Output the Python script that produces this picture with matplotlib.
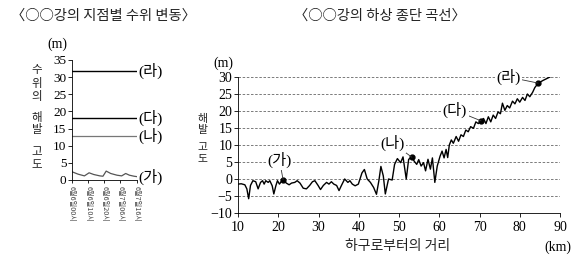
import matplotlib
matplotlib.use('Agg')
import matplotlib.pyplot as plt

KR = 'Noto Sans CJK KR'
SERIF_KR = ['Liberation Serif', 'Noto Sans CJK KR']

# left panel: water level at four stations (hours since 6/6 00h)
hours = [0, 3.8, 7.7, 10.6, 13.5, 17.3, 19.2, 21.2, 24, 27.9, 30.8, 33.3,
         35.6, 38.5, 40]
level_ga = [2.4, 1.7, 1.2, 2.1, 1.6, 1.2, 1.1, 2.6, 1.9, 1.4, 1.2, 1.9,
            1.4, 1.1, 1.0]
level_na = 12.9
level_da = 18.2
level_ra = 31.8
time_ticks = [0, 10, 20, 30, 40]
time_labels = ['6월6일00시', '6월6일10시', '6월6일20시', '6월7일06시',
               '6월7일16시']

# right panel: long profile of river bed
dist_km = [10, 10.8, 11.7, 12.2, 12.65, 13.1, 13.7, 14.4, 15.0, 15.6, 16.1,
           16.5, 16.9, 17.5, 17.9, 18.5, 18.9, 19.4, 19.8, 20.3, 20.9, 21.2,
           22.0, 22.7, 23.3, 24.1, 24.7, 25.4, 26.2, 27.0, 27.8, 28.5, 29.1,
           29.9, 30.5, 31.2, 32.0, 32.6, 33.2, 33.8, 34.5, 35.1, 35.7, 36.5,
           37.3, 37.8, 38.4, 39.1, 39.9, 40.8, 41.4, 42.1, 42.9, 43.7, 44.4,
           45.0, 45.5, 46.1, 46.6, 47.4, 48.3, 48.9, 49.6, 50.4, 51.0, 51.8,
           52.4, 53.2, 53.8, 54.4, 54.9, 55.5, 56.1, 56.6, 57.2, 57.8, 58.3,
           58.9, 59.5, 60.2, 60.7, 61.2, 61.7, 62.1, 62.5, 63.0, 63.5, 64.2,
           64.8, 65.4, 66.0, 66.6, 67.2, 67.8, 68.5, 69.1, 69.7, 70.4, 71.0,
           71.6, 72.2, 72.8, 73.4, 74.0, 74.6, 75.2, 75.7, 76.3, 76.9, 77.5,
           78.2, 78.8, 79.4, 80.0, 80.7, 81.3, 81.9, 82.5, 83.2, 83.75, 84.6,
           85.8, 87.5]
bed_m = [-1.5, -1.4, -1.7, -2.9, -5.8, -1.9, -0.5, -0.8, -2.9, -1.0, -0.5,
         -1.5, -0.5, -1.0, -0.5, -2.0, -4.4, -2.0, -0.5, -1.5, -0.5, -0.2,
         -1.2, -1.7, -1.2, -1.0, -0.5, -1.2, -2.7, -2.9, -1.9, -0.8, -0.5,
         -1.9, -3.1, -1.9, -1.0, -1.5, -0.8, -1.5, -1.9, -3.4, -1.9, 0.0,
         -1.0, -0.5, -1.5, -2.0, -1.5, 1.8, 2.8, 0.0, -1.0, -2.5, -4.5,
         -0.5, 3.7, 0.9, -4.4, 0.0, -0.3, 4.3, 6.0, 4.8, 6.5, 0.0,
         5.8, 6.4, 5.2, 4.3, 5.7, 3.8, 4.8, 2.4, 5.8, 2.9, 6.2,
         -1.0, 3.8, 6.7, 8.2, 6.2, 8.7, 6.3, 10.0, 11.5, 10.5, 12.5,
         11.1, 13.0, 12.5, 14.4, 13.9, 15.4, 14.9, 16.8, 16.3, 17.1, 17.8,
         16.3, 18.3, 16.8, 18.8, 17.8, 19.7, 19.2, 22.3, 20.2, 21.6, 20.9,
         22.9, 22.1, 23.6, 22.6, 24.0, 23.1, 25.0, 24.2, 25.5, 26.9, 28.2,
         29.0, 30.0]
station_names = ['(가)', '(나)', '(다)', '(라)']
station_km = [21.2, 53.2, 70.4, 84.6]
station_bed = [-0.2, 6.4, 17.1, 28.2]
label_pos = [(20.3, 5.6), (48.4, 10.6), (63.9, 20.2), (77.2, 30.0)]

W, H = 575, 259
fig = plt.figure(figsize=(W / 100, H / 100), dpi=100)


def px_axes(x0, y0, x1, y1):
    return fig.add_axes([x0 / W, 1 - y1 / H, (x1 - x0) / W, (y1 - y0) / H])


def stacked(chars, x, ys, size):
    for ch, py in zip(chars, ys):
        fig.text(x / W, 1 - py / H, ch, fontsize=size, family=KR,
                 ha='center', va='center', color='#222222')


# ---- left panel
ax1 = px_axes(72, 60, 136.5, 180)
ax1.plot(hours, level_ga, color='#555555', lw=0.9)
ax1.plot([0, 40], [level_na, level_na], color='#777777', lw=0.9)
ax1.plot([0, 40], [level_da, level_da], color='black', lw=1.0)
ax1.plot([0, 40], [level_ra, level_ra], color='black', lw=1.0)
ax1.set_xlim(0, 40)
ax1.set_ylim(0, 35)
ax1.set_yticks(range(0, 36, 5))
ax1.set_xticks(time_ticks)
ax1.set_xticklabels(time_labels, rotation=270, fontsize=5.2, family=KR,
                    color='#444444')
for lab in ax1.get_yticklabels():
    lab.set_fontfamily('Liberation Serif')
    lab.set_fontsize(9.5)
ax1.tick_params(axis='y', length=3, width=0.6, pad=1)
ax1.tick_params(axis='x', length=2.5, width=0.6, pad=2)
for side in ('top', 'right'):
    ax1.spines[side].set_visible(False)
for side in ('left', 'bottom'):
    ax1.spines[side].set_linewidth(0.6)
for name, y in zip(station_names,
                   [level_ga[-1], level_na, level_da, level_ra]):
    ax1.text(41, y, name, fontsize=11, family=SERIF_KR, va='center',
             ha='left')

fig.text(57 / W, 1 - 44 / H, '(m)', fontsize=10, family='Liberation Serif',
         ha='center', va='center')
stacked('수위의해발고도', 37, [70, 84, 97, 118, 130, 152, 165], 8.3)
fig.text(103 / W, 1 - 16 / H, '〈○○강의 지점별 수위 변동〉', fontsize=10.3,
         family=KR, ha='center', va='center', color='#222222')

# ---- right panel
ax2 = px_axes(238, 77, 560, 213)
ax2.set_xlim(10, 90)
ax2.set_ylim(-10, 30)
for y in range(-5, 31, 5):
    ax2.axhline(y, color='#666666', lw=0.6, ls=(0, (3, 2)), zorder=1)
ax2.plot(dist_km, bed_m, color='black', lw=1.0, zorder=3)
ax2.plot(station_km, station_bed, 'o', color='black', ms=3.5, zorder=4)
for name, x, y, (tx, ty) in zip(station_names, station_km, station_bed,
                                label_pos):
    ax2.annotate(name, xy=(x, y), xytext=(tx, ty), fontsize=11,
                 family=SERIF_KR, ha='center', va='center', zorder=5,
                 bbox=dict(boxstyle='square,pad=0.1', fc='white', ec='none'),
                 arrowprops=dict(arrowstyle='-', lw=0.6, color='#333333',
                                 shrinkA=0, shrinkB=0))
ax2.set_xticks(range(10, 91, 10))
ax2.set_yticks(range(-10, 31, 5))
ax2.set_yticklabels(['\u221210', '\u22125'] + [str(v) for v in
                                               range(0, 31, 5)])
for lab in ax2.get_xticklabels() + ax2.get_yticklabels():
    lab.set_fontfamily('Liberation Serif')
    lab.set_fontsize(10)
ax2.tick_params(length=3, width=0.6, pad=1)
ax2.tick_params(axis='x', pad=3)
for side in ('top', 'right'):
    ax2.spines[side].set_visible(False)
for side in ('left', 'bottom'):
    ax2.spines[side].set_linewidth(0.6)

fig.text(223 / W, 1 - 63 / H, '(m)', fontsize=10, family='Liberation Serif',
         ha='center', va='center')
stacked('해발고도', 202, [119, 130.5, 147, 158.5], 7.8)
fig.text(398 / W, 1 - 246 / H, '하구로부터의 거리', fontsize=10, family=KR,
         ha='center', va='center', color='#222222')
fig.text(558 / W, 1 - 247 / H, '(km)', fontsize=10,
         family='Liberation Serif', ha='center', va='center')
fig.text(380 / W, 1 - 16 / H, '〈○○강의 하상 종단 곡선〉', fontsize=10.3,
         family=KR, ha='center', va='center', color='#222222')

fig.savefig('out.png', dpi=100)
